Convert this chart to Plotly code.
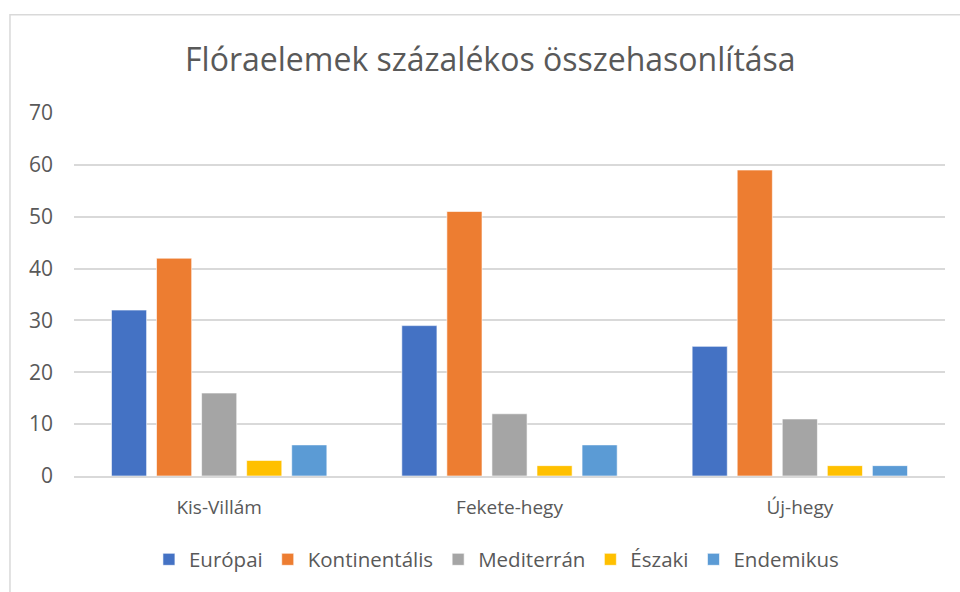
import plotly.graph_objects as go

# Data
helyek = ['Kis-Villám', 'Fekete-hegy', 'Új-hegy']
europai = [32, 29, 25]
kontinentalis = [42, 51, 59]
mediterran = [16, 12, 11]
eszaki = [3, 2, 2]
endemikus = [6, 6, 2]

sorozatok = [
    ('Európai', europai, '#4472C4'),
    ('Kontinentális', kontinentalis, '#ED7D31'),
    ('Mediterrán', mediterran, '#A5A5A5'),
    ('Északi', eszaki, '#FFC000'),
    ('Endemikus', endemikus, '#5B9BD5'),
]

font_family = '"Open Sans", sans-serif'
text_color = '#595959'

fig = go.Figure()

for nev, ertekek, szin in sorozatok:
    fig.add_trace(go.Bar(
        x=helyek,
        y=ertekek,
        name=nev,
        marker=dict(color=szin, line=dict(color='rgba(255,255,255,0.6)', width=1)),
    ))

fig.update_layout(
    width=960,
    height=592,
    paper_bgcolor='white',
    plot_bgcolor='white',
    barmode='group',
    bargap=0.224,
    bargroupgap=0.22,
    margin=dict(l=74, r=15, t=113, b=114),
    font=dict(family=font_family, size=18, color=text_color),
    title=dict(
        text='Flóraelemek százalékos összehasonlítása',
        xref='paper', x=0.478, xanchor='center',
        y=0.899, yanchor='middle',
        font=dict(size=32, color=text_color, family=font_family),
    ),
    legend=dict(
        orientation='h',
        x=0.485, xanchor='center',
        y=-0.23, yanchor='middle',
        font=dict(size=20.5, color=text_color),
        itemwidth=30,
        traceorder='normal',
    ),
    showlegend=True,
)

fig.update_yaxes(
    range=[0, 70],
    dtick=10,
    showgrid=True,
    gridcolor='#D9D9D9',
    gridwidth=1.5,
    zeroline=False,
    showline=False,
    ticks='',
    ticklabelstandoff=20,
    tickfont=dict(size=21, color=text_color),
)

fig.update_xaxes(
    showline=True,
    linecolor='#D9D9D9',
    linewidth=1.5,
    ticks='',
    tickfont=dict(size=19, color=text_color),
    ticklabelstandoff=13,
)

# Chart area border, as in the spreadsheet export
fig.add_shape(
    type='rect', xref='paper', yref='paper',
    x0=-0.0735, x1=1.1, y0=-0.4, y1=1.271,
    line=dict(color='#D9D9D9', width=1.5),
    fillcolor='rgba(0,0,0,0)',
    layer='below',
)

fig.write_html(
    'out.html',
    config={'displayModeBar': False},
    post_script="document.body.style.margin='0';document.body.style.overflow='hidden';",
)
